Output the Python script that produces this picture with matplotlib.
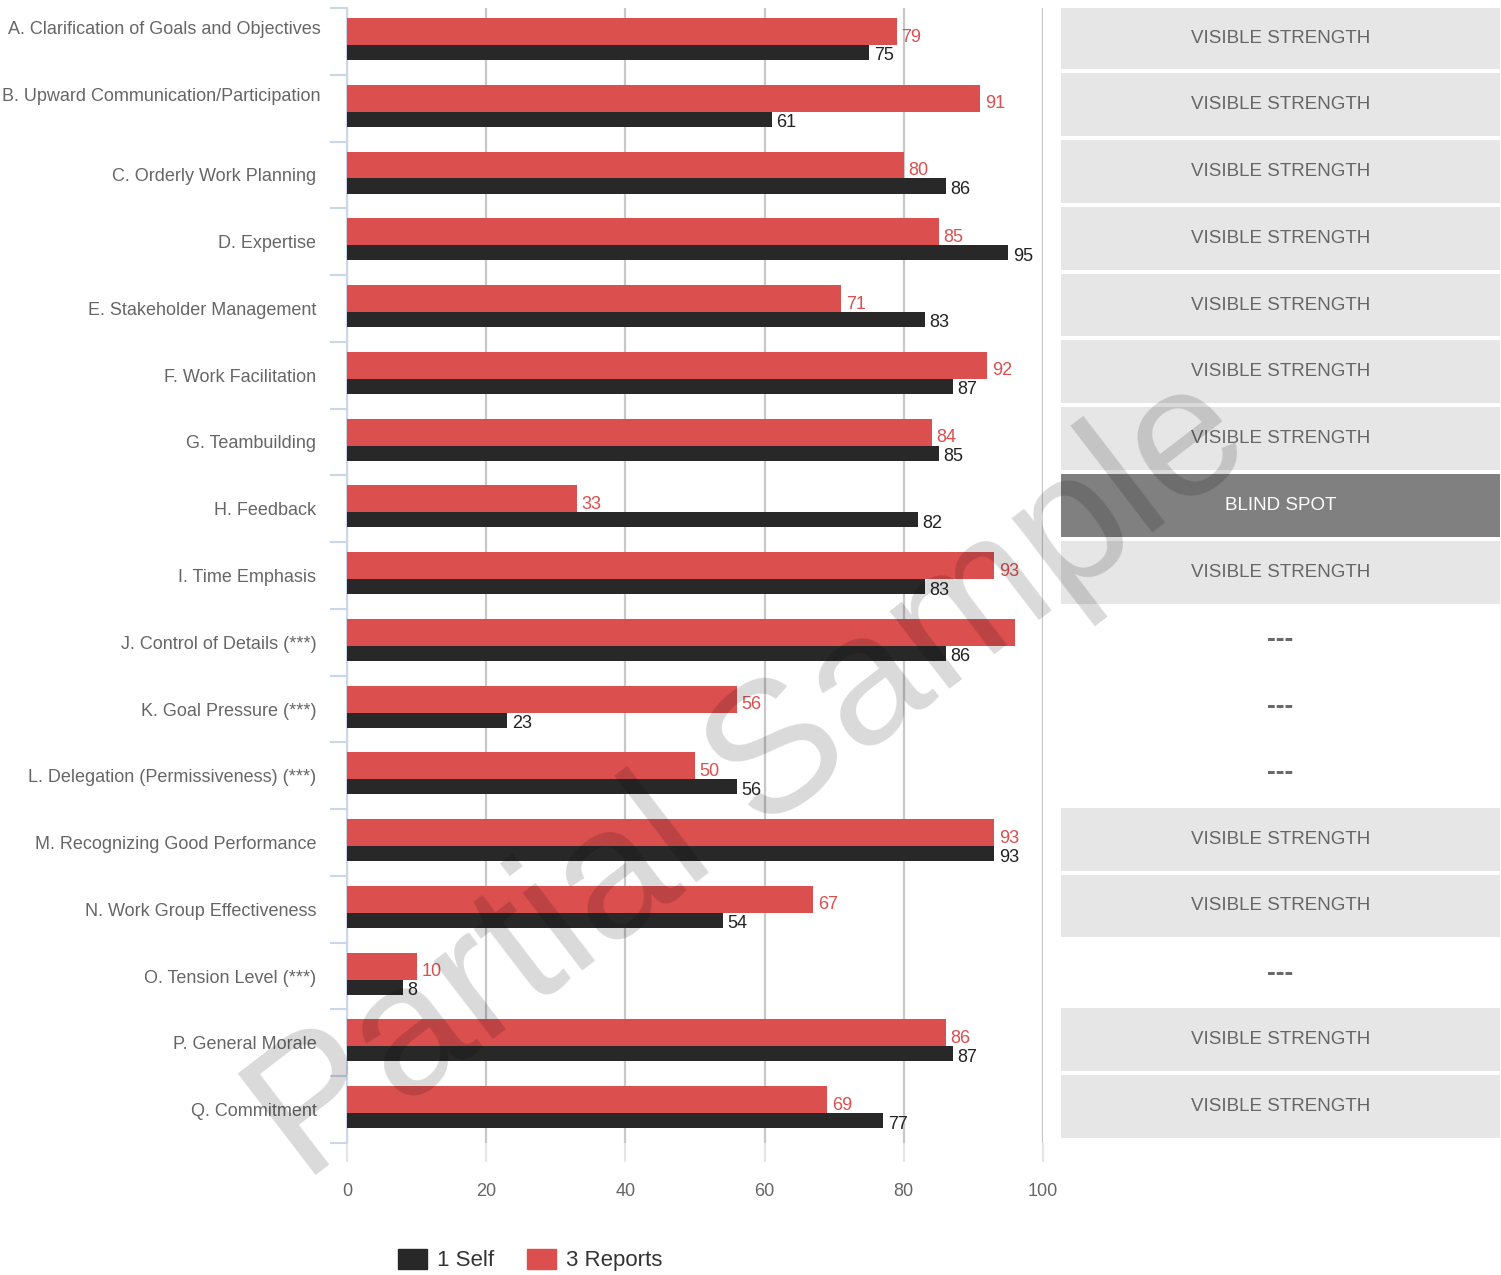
import numpy as np
import matplotlib.pyplot as plt
from matplotlib.patches import Patch
import matplotlib.transforms as mtransforms

categories = [
    "A. Clarification of Goals and Objectives",
    "B. Upward Communication/Participation",
    "C. Orderly Work Planning",
    "D. Expertise",
    "E. Stakeholder Management",
    "F. Work Facilitation",
    "G. Teambuilding",
    "H. Feedback",
    "I. Time Emphasis",
    "J. Control of Details (***)",
    "K. Goal Pressure (***)",
    "L. Delegation (Permissiveness) (***)",
    "M. Recognizing Good Performance",
    "N. Work Group Effectiveness",
    "O. Tension Level (***)",
    "P. General Morale",
    "Q. Commitment",
]
self_scores = [75, 61, 86, 95, 83, 87, 85, 82, 83, 86, 23, 56, 93, 54, 8, 87, 77]
report_scores = [79, 91, 80, 85, 71, 92, 84, 33, 93, 96, 56, 50, 93, 67, 10, 86, 69]
# the label for J is hidden in the original chart
show_report_label = [True] * 9 + [False] + [True] * 7
status = ["VISIBLE STRENGTH"] * 7 + ["BLIND SPOT", "VISIBLE STRENGTH", "---", "---", "---",
          "VISIBLE STRENGTH", "VISIBLE STRENGTH", "---", "VISIBLE STRENGTH", "VISIBLE STRENGTH"]

plt.rcParams['font.family'] = ['Liberation Sans', 'DejaVu Sans']

red = '#db4f4f'
dark = '#282828'
W, H = 1501, 1275

fig = plt.figure(figsize=(W / 100, H / 100), dpi=100)
ax_rect = [347 / W, 1 - 1143 / H, 696 / W, 1135 / H]
ax = fig.add_axes(ax_rect)

y = np.arange(len(categories))
ax.barh(y - 0.148, report_scores, height=0.404, color=red, zorder=3)
ax.barh(y + 0.166, self_scores, height=0.225, color=dark, zorder=3)

for i in range(len(categories)):
    if show_report_label[i]:
        ax.annotate(str(report_scores[i]), (report_scores[i], y[i] - 0.148), xytext=(3.4, -4),
                    textcoords='offset points', color=red, va='center', fontsize=13, zorder=4)
    ax.annotate(str(self_scores[i]), (self_scores[i], y[i] + 0.166), xytext=(3.4, -2.5),
                textcoords='offset points', color='#222222', va='center', fontsize=13, zorder=4)

ax.set_xlim(0, 100)
ax.set_ylim(len(categories) - 0.5, -0.5)
ax.set_xticks(np.arange(0, 101, 20))
ax.grid(axis='x', color='#c8c8c8', lw=1.6, zorder=0)
ax.tick_params(axis='x', length=14, width=1.5, color='#e6e6e6', labelsize=13,
               labelcolor='#666666', pad=15)

ax.set_yticks(y)
ax.set_yticklabels(categories)
ax.set_yticks(np.arange(-0.5, len(categories), 1), minor=True)
ax.tick_params(axis='y', which='major', length=0, pad=22, labelsize=13, labelcolor='#666666')
ax.tick_params(axis='y', which='minor', length=12, width=1.5, color='#ccd6eb')
for lbl in ax.get_yticklabels()[:2]:
    lbl.set_transform(lbl.get_transform() +
                      mtransforms.ScaledTranslation(0.04, 0.135, fig.dpi_scale_trans))

for side in ['top', 'right', 'bottom']:
    ax.spines[side].set_visible(False)
ax.spines['left'].set_color('#ccd6eb')
ax.spines['left'].set_linewidth(1.5)

# status panel on the right
ax2 = fig.add_axes([1061 / W, ax_rect[1], 439 / W, ax_rect[3]])
ax2.set_xlim(0, 1)
ax2.set_ylim(len(categories) - 0.5, -0.5)
ax2.axis('off')
for i, s in enumerate(status):
    if s == '---':
        ax2.text(0.5, i - 0.05, s, ha='center', va='center', fontsize=19, fontweight='bold',
                 color='#6a6a6a')
        continue
    blind = s == "BLIND SPOT"
    ax2.barh(i - 0.05, 1, height=0.94, color='#808080' if blind else '#e6e6e6')
    ax2.text(0.5, i - 0.05, s, ha='center', va='center', fontsize=13.5,
             color='white' if blind else '#666666')

handles = [Patch(color=dark, label='1 Self'), Patch(color=red, label='3 Reports')]
fig.legend(handles=handles, loc='center left', bbox_to_anchor=(398 / W, 1 - 1260 / H),
           ncol=2, frameon=False, fontsize=16, handlelength=1.3, handleheight=1.0,
           handletextpad=0.45, columnspacing=1.5, borderpad=0, borderaxespad=0,
           labelcolor='#333333')

fig.text(0.501, 0.388, 'Partial Sample', rotation=37.5, fontsize=133, color='black', alpha=0.15,
         ha='center', va='center', rotation_mode='anchor', zorder=10)

fig.savefig('out.png', dpi=100)
